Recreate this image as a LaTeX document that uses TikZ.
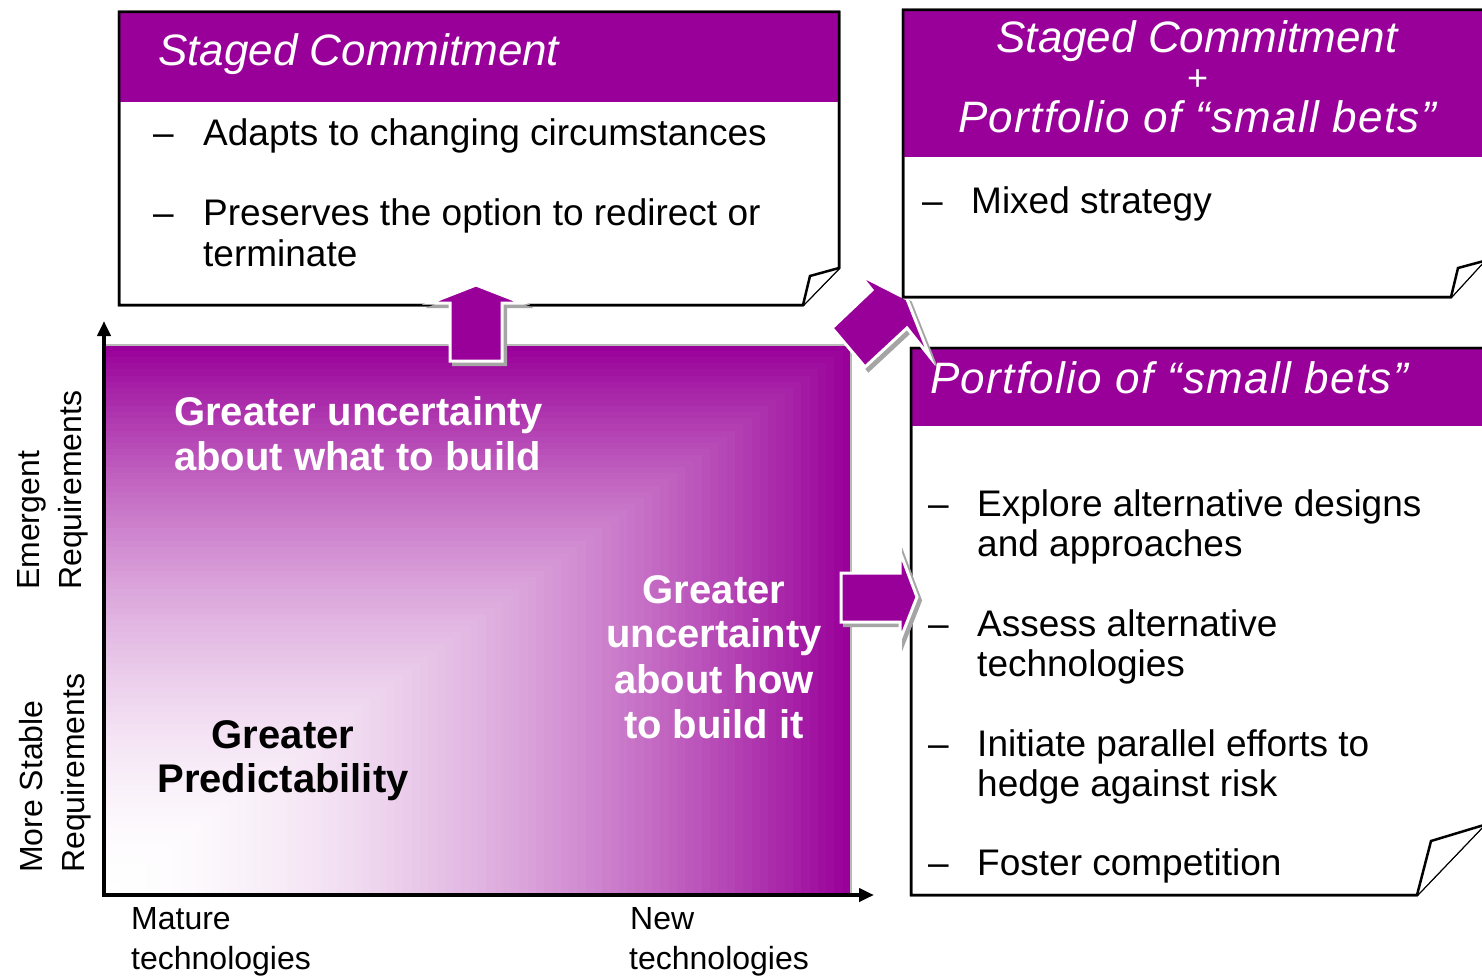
\documentclass[tikz,border=0pt]{standalone}
\usepackage{fontspec}
\setmainfont{Liberation Sans}
\usetikzlibrary{arrows.meta}
\definecolor{pur}{RGB}{153,0,153}
\definecolor{shd}{RGB}{165,165,165}
\begin{document}
\begin{tikzpicture}[x=1pt,y=-1pt,
  boxln/.style={draw=black, line width=2.5pt, line join=miter},
  barrow/.style={fill=pur, draw=white, line width=3pt, line join=miter,
    preaction={fill=shd, draw=shd, line width=3pt, transform canvas={shift={(3.5pt,-3.5pt)}}}},
  bul/.style={anchor=base west, inner sep=0pt, font=\fontsize{37}{44}\selectfont},
  ttl/.style={inner sep=0pt, text=white, font=\itshape\fontsize{44}{50}\selectfont},
  ttlw/.style={ttl, font=\itshape\fontsize{44}{50}\selectfont\addfontfeatures{LetterSpace=3}},
  bigw/.style={inner sep=0pt, font=\bfseries\fontsize{40}{45}\selectfont},
  axl/.style={inner sep=0pt, anchor=base west, font=\fontsize{32}{36}\selectfont},
  axis/.style={line width=4pt, -{Triangle[length=15pt,width=13pt]}}
]
\useasboundingbox (0,0) rectangle (1482,976);
\clip (0,0) rectangle (1482,976);
\fill[white] (0,0) rectangle (1482,976);

% gradient square
\foreach \i in {90,89,...,1}{
  \pgfmathsetmacro\ff{\i/90}
  \pgfmathsetmacro\pp{100*(\ff)^1.8}
  \fill[pur!\pp!white] (105,895) rectangle ({105+746*\ff},{895-550*\ff});
}
\node[draw=gray!55, line width=1.5pt, minimum width=746pt, minimum height=550pt, inner sep=0pt] (sq) at (478,620) {};

% box A
\draw[boxln, fill=white] (119,12) -- (839,12) -- (839,268) -- (803,305) -- (119,305) -- cycle;
\fill[pur] (119,12) rectangle (839,102);
\draw[boxln] (119,12) -- (839,12) -- (839,268) -- (803,305) -- (119,305) -- cycle;
\draw[boxln, fill=white] (839,268) -- (810,276) -- (803,305);

% box C
\draw[boxln, fill=white] (911,348) -- (1484,348) -- (1484,825) -- (1417,895) -- (911,895) -- cycle;
\fill[pur] (911,348) rectangle (1484,426);
\draw[boxln] (911,348) -- (1484,348) -- (1484,825) -- (1417,895) -- (911,895) -- cycle;
\draw[boxln, fill=white] (1484,825) -- (1431,841) -- (1417,895);

% block arrows
\draw[barrow] (450,361) -- (450,303) -- (430,303) -- (476,285) -- (522,303) -- (502,303) -- (502,361) -- cycle;
\draw[barrow] (841,573) -- (900,573) -- (900,552) -- (917,597) -- (900,640) -- (900,622) -- (841,622) -- cycle;
\draw[barrow] (832,328) -- (872,290) -- (860,275) -- (907,299) -- (930,357) -- (907,328) -- (865,367) -- cycle;

% box B
\draw[boxln, fill=white] (903,10) -- (1484,10) -- (1484,261) -- (1451,297) -- (903,297) -- cycle;
\fill[pur] (903,10) rectangle (1484,157);
\draw[boxln] (903,10) -- (1484,10) -- (1484,261) -- (1451,297) -- (903,297) -- cycle;
\draw[boxln, fill=white] (1484,261) -- (1458,268) -- (1451,297);

% axes
\coordinate (o) at (104,895);
\coordinate (ytop) at (104,321);
\coordinate (xend) at (874,895);
\draw[axis, shorten <=-2pt] (o) -- (ytop);
\draw[axis, shorten <=-2pt] (o) -- (xend);

% titles
\node[ttl, anchor=base west] (tA) at (158,66) {Staged Commitment};
\node[ttl, anchor=base] (tB1) at (1197,53) {Staged Commitment};
\node[ttl, anchor=base, font=\itshape\fontsize{36}{38}\selectfont] (tB2) at (1197,91) {+};
\node[ttlw, anchor=base] (tB3) at (1197,133) {Portfolio of “small bets”};
\node[ttlw, anchor=base west] (tC) at (930,393) {Portfolio of “small bets”};

% box A bullets
\node[bul] (a1d) at (153,146) {–};
\node[bul] (a1) at (203,146) {Adapts to changing circumstances};
\node[bul] (a2d) at (153,226) {–};
\node[bul] (a2) at (203,226) {Preserves the option to redirect or};
\node[bul] (a2b) at (203,266) {terminate};

% box B bullet
\node[bul] (b1d) at (922,214) {–};
\node[bul] (b1) at (971,214) {Mixed strategy};

% box C bullets
\node[bul] (c1d) at (928,516) {–};
\node[bul] (c1) at (977,516) {Explore alternative designs};
\node[bul] (c1b) at (977,556) {and approaches};
\node[bul] (c2d) at (928,636) {–};
\node[bul] (c2) at (977,636) {Assess alternative};
\node[bul] (c2b) at (977,676) {technologies};
\node[bul] (c3d) at (928,756) {–};
\node[bul] (c3) at (977,756) {Initiate parallel efforts to};
\node[bul] (c3b) at (977,796) {hedge against risk};
\node[bul] (c4d) at (928,875) {–};
\node[bul] (c4) at (977,875) {Foster competition};

% square texts
\node[bigw, text=white, anchor=base west] (g1) at (174,425) {Greater uncertainty};
\node[bigw, text=white, anchor=base west] (g2) at (174,470) {about what to build};
\node[bigw, anchor=base] (p1) at (283,748) {Greater};
\node[bigw, anchor=base] (p2) at (283,792) {Predictability};
\node[bigw, text=white, anchor=base] (h1) at (714,603) {Greater};
\node[bigw, text=white, anchor=base] (h2) at (714,647) {uncertainty};
\node[bigw, text=white, anchor=base] (h3) at (714,693) {about how};
\node[bigw, text=white, anchor=base] (h4) at (714,738) {to build it};

% axis labels
\node[axl] (m1) at (131,929) {Mature};
\node[axl] (m2) at (131,969) {technologies};
\node[axl] (n1) at (630,929) {New};
\node[axl] (n2) at (629,969) {technologies};
\node[axl, rotate=90] (e1) at (39,590) {Emergent};
\node[axl, rotate=90] (e2) at (81,590) {Requirements};
\node[axl, rotate=90] (s1) at (42,873) {More Stable};
\node[axl, rotate=90] (s2) at (84,873) {Requirements};
\end{tikzpicture}
\end{document}
